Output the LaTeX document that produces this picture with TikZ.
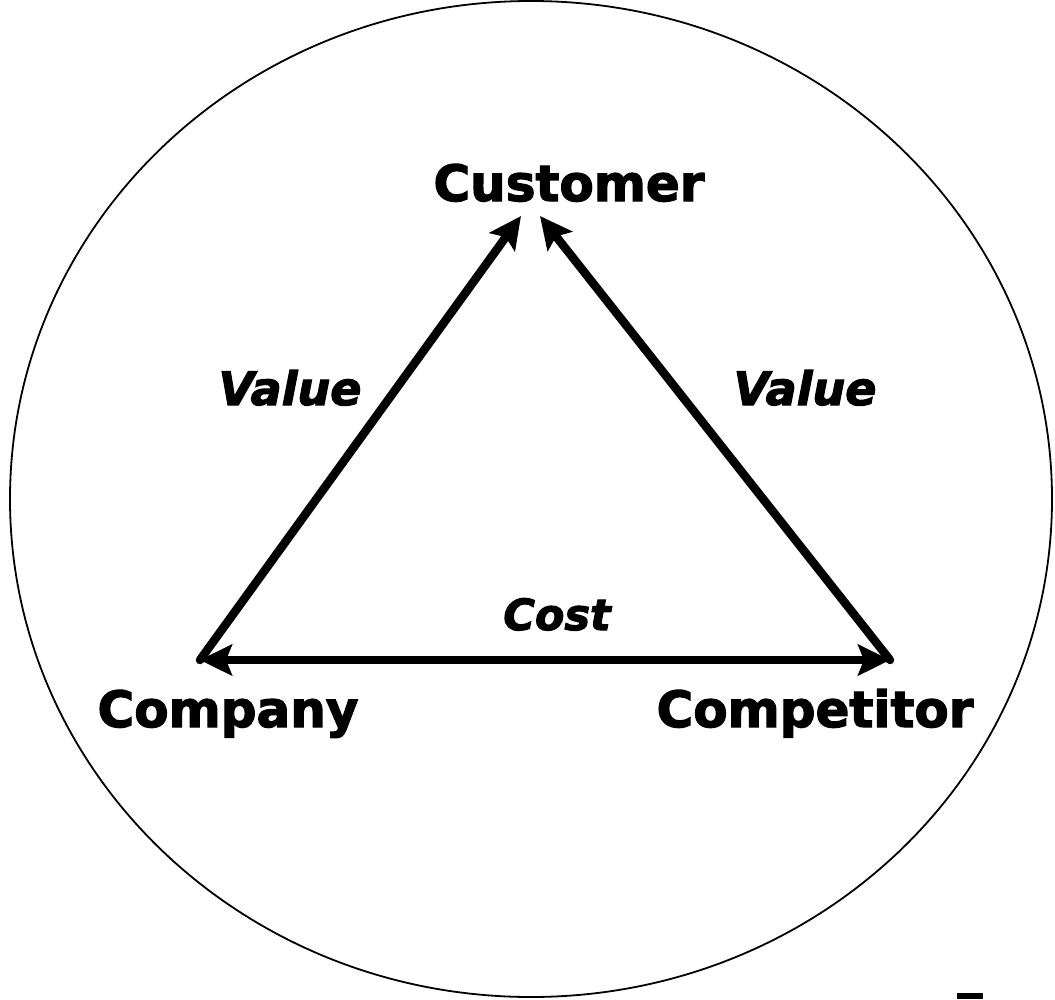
\documentclass[tikz,border=0pt]{standalone}
\usepackage{fontspec}
\setmainfont{DejaVu Sans}
\newfontfamily\heavyfont[FakeBold=2.5]{DejaVu Sans Bold}
\newfontfamily\heavyitfont[FakeBold=2.5]{DejaVu Sans Bold Oblique}
\usetikzlibrary{arrows.meta}
\begin{document}
\begin{tikzpicture}[x=1pt,y=-1pt,
  vertex/.style={font=\fontsize{50}{50}\heavyfont, anchor=base, inner sep=0pt},
  edgelabel/.style={font=\fontsize{46}{46}\heavyitfont, anchor=base, inner sep=0pt},
  tip/.tip={Stealth[length=32pt,width=31pt,inset=6pt]},
  link/.style={line width=8.5pt, -tip},
  twoway/.style={line width=8.5pt, tip-tip}]
  \useasboundingbox (0,0) rectangle (1055,999);
  % surrounding market ellipse
  \draw[line width=1.8pt] (531,499) ellipse [x radius=521, y radius=498];
  % triangle corners
  \coordinate (co) at (200,660);
  \coordinate (cp) at (890,660);
  \coordinate (cuL) at (521,216);
  \coordinate (cuR) at (540,216);
  % labels
  \node[vertex] (customer) at (569,201) {Customer};
  \node[vertex] (company) at (228,727) {Company};
  \node[vertex] (competitor) at (815,727) {Competitor};
  \node[edgelabel] (valL) at (290,405) {Value};
  \node[edgelabel] (valR) at (805,405) {Value};
  \node[edgelabel, font=\fontsize{43}{43}\heavyitfont] (cost) at (557,630) {Cost};
  % relations
  \draw[link, line cap=round] (co) -- (cuL);
  \draw[link, line cap=round] (cp) -- (cuR);
  \draw[twoway] (co) -- (cp);
  % small mark at the lower edge
  \fill (957,993) rectangle (983,999);
\end{tikzpicture}
\end{document}
